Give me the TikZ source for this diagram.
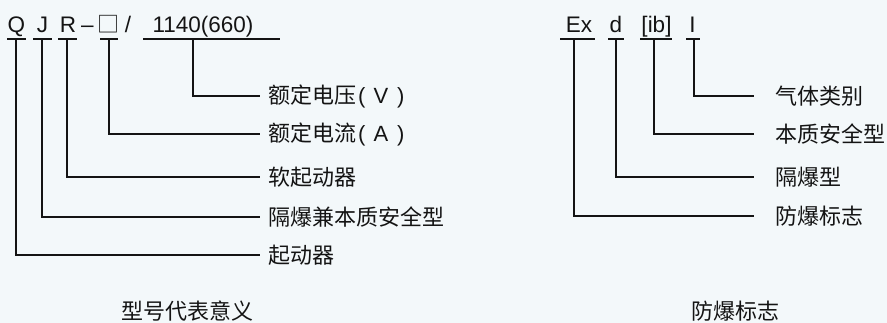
\documentclass[tikz,border=0pt]{standalone}
\usepackage{fontspec}
\setmainfont{Liberation Sans}
\newfontfamily\cjk{Noto Sans CJK SC}
\definecolor{paper}{RGB}{243,248,250}
\definecolor{ink}{RGB}{20,20,20}
\newcommand\unit[1]{{\rmfamily\hspace{2pt}(\hspace{8pt}#1\hspace{9pt})}}
\tikzset{
  code/.style={font=\fontsize{22.5}{26}\selectfont, text=ink, inner sep=0pt, anchor=base},
  lbl/.style={font=\cjk\fontsize{22}{26}\selectfont, text=ink, anchor=west, inner ysep=0pt, inner xsep=#1},
  lbl/.default=8pt,
  bar/.style={draw=ink, line width=1.6pt},
  link/.style={draw=ink, line width=1.1pt},
  caption/.style={font=\cjk\fontsize{22}{26}\selectfont, text=ink}
}
\begin{document}
\begin{tikzpicture}[x=1pt,y=-1pt]
    \fill[paper] (0,0) rectangle (887,323);
    \useasboundingbox (0,0) rectangle (887,323);

    % model code
    \node[code] (Q) at (16.5,32.5) {Q};
    \node[code] (J) at (42.5,32.5) {J};
    \node[code] (R) at (68,32.5) {R};
    \node[code] (dash) at (87.5,32.5) {--};
    \node[code, font=\cjk\fontsize{22}{26}\selectfont] (box) at (108.5,32.5) {□};
    \node[code] (slash) at (128,32.5) {/};
    \node[code] (rating) at (203,32.5) {1140(660)};

    % explosion-proof mark
    \node[code] (Ex) at (579,32.5) {Ex};
    \node[code] (d) at (616,32.5) {d};
    \node[code] (ib) at (656.5,32.5) {[ib]};
    \node[code] (I) at (692.5,32.5) {I};

    \foreach \a/\b in {7/26, 33/52, 58/77, 100/118, 143/280, 560/595, 608/624, 640/672, 686/700}
        \draw[bar] (\a,39) -- (\b,39);

    \coordinate (Qd) at (16,39);
    \coordinate (Jd) at (42,39);
    \coordinate (Rd) at (67,39);
    \coordinate (boxd) at (109,39);
    \coordinate (ratingd) at (193,39);
    \coordinate (Exd) at (574,39);
    \coordinate (dd) at (616,39);
    \coordinate (ibd) at (654,39);
    \coordinate (Id) at (694,39);

    % meanings
    \node[lbl] (volt) at (260,96) {额定电压\unit{V}};
    \node[lbl] (amp) at (260,134) {额定电流\unit{A}};
    \node[lbl] (soft) at (260,177) {软起动器};
    \node[lbl] (dual) at (260,217) {隔爆兼本质安全型};
    \node[lbl] (starter) at (260,255) {起动器};

    \node[lbl=21pt] (gas) at (754,96) {气体类别};
    \node[lbl=21pt] (intr) at (754,134) {本质安全型};
    \node[lbl=21pt] (flame) at (754,177) {隔爆型};
    \node[lbl=21pt] (mark) at (754,216) {防爆标志};

    \draw[link] (ratingd) |- (volt);
    \draw[link] (boxd) |- (amp);
    \draw[link] (Rd) |- (soft);
    \draw[link] (Jd) |- (dual);
    \draw[link] (Qd) |- (starter);

    \draw[link] (Id) |- (gas);
    \draw[link] (ibd) |- (intr);
    \draw[link] (dd) |- (flame);
    \draw[link] (Exd) |- (mark);

    \node[caption] (lcap) at (187,311) {型号代表意义};
    \node[caption] (rcap) at (735,311) {防爆标志};
\end{tikzpicture}
\end{document}
